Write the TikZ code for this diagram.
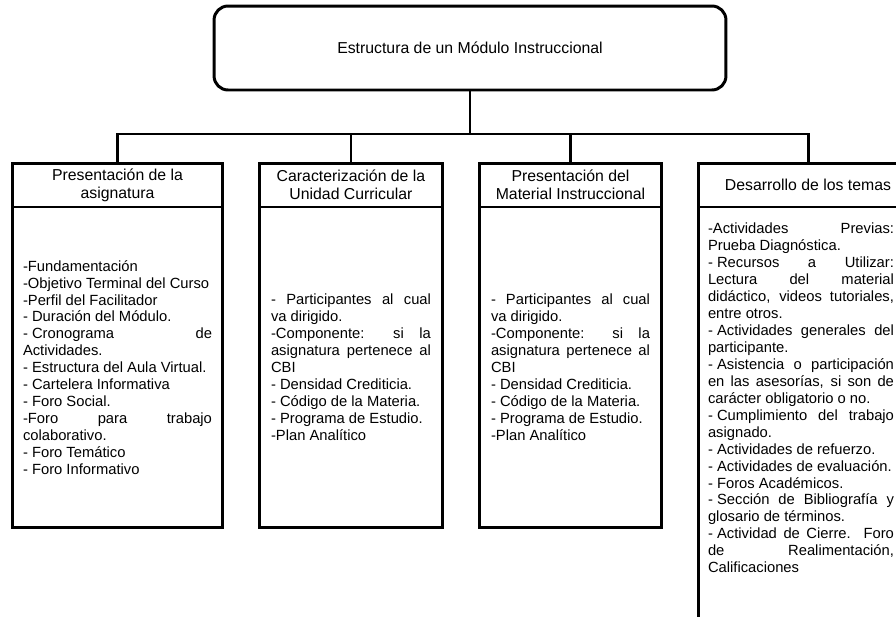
\documentclass[tikz,border=0pt]{standalone}
\usepackage{fontspec}
\setmainfont{Liberation Sans}
\usetikzlibrary{positioning}
\hyphenpenalty=10000
\exhyphenpenalty=10000
\tolerance=10000
\newcommand{\guion}{-\kern0.28em}

\begin{document}
\begin{tikzpicture}[x=0.02cm, y=-0.02cm, line width=1.7pt, node distance=0pt, outer sep=0pt,
	title/.style={draw, rounded corners=0.28cm, minimum width=10.24cm, minimum height=1.68cm, font=\fontsize{9}{10.5}\selectfont},
	head/.style={draw, minimum height=0.88cm, inner sep=0pt, align=center, font=\fontsize{9}{10.2}\selectfont},
	body/.style={draw, minimum height=6.42cm, inner ysep=0pt, align=justify, font=\fontsize{8.4}{9.65}\selectfont},
	items/.style={inner sep=0pt, align=justify, font=\fontsize{8.4}{9.65}\selectfont}]
	\useasboundingbox (0,0) rectangle (896,616);
	\clip (0,0) rectangle (896,616);

	\node	(top)	[title] 	at (470,48)	{Estructura de un Módulo Instruccional};
	\coordinate (bus) at (470,134);

	\node	(h1)	[head, minimum width=4.22cm]	at (117.5,185)	{Presentación de la\\asignatura};
	\node	(h2)	[head, minimum width=3.68cm]	at (351,185)	{Caracterización de la\\Unidad Curricular};
	\node	(h3)	[head, minimum width=3.66cm]	at (570.5,185)	{Presentación del\\Material Instruccional};
	\node	(h4)	[head, minimum width=4.4cm]	at (808,185)	{Desarrollo de los temas};

	\node	(b1)	[body, below=of h1, text width=3.78cm, inner xsep=0.22cm] {
		-Fundamentación\par
		-Objetivo Terminal del Curso\par
		-Perfil del Facilitador\par
		\guion Duración del Módulo.\par
		\guion Cronograma de\linebreak Actividades.\par
		\guion Estructura del Aula Virtual.\par
		\guion Cartelera Informativa\par
		\guion Foro Social.\par
		-Foro para trabajo\linebreak colaborativo.\par
		\guion Foro Temático\par
		\guion Foro Informativo};
	\node	(b2)	[body, below=of h2, text width=3.2cm, inner xsep=0.24cm] {
		- Participantes al cual\linebreak va dirigido.\par
		-Componente: si la\linebreak asignatura pertenece al\linebreak CBI\par
		\guion Densidad Crediticia.\par
		\guion Código de la Materia.\par
		\guion Programa de Estudio.\par
		-Plan Analítico};
	\node	(b3)	[body, below=of h3, text width=3.18cm, inner xsep=0.24cm] {
		- Participantes al cual\linebreak va dirigido.\par
		-Componente: si la\linebreak asignatura pertenece al\linebreak CBI\par
		\guion Densidad Crediticia.\par
		\guion Código de la Materia.\par
		\guion Programa de Estudio.\par
		-Plan Analítico};
	\node	(b4)	[draw, below=of h4, minimum width=4.4cm, minimum height=8.8cm] {};
	\node	(t4)	[items, below right=0.32cm and 0.2cm of b4.north west, text width=3.72cm] {
		-Actividades Previas:\linebreak Prueba Diagnóstica.\par
		\guion Recursos a Utilizar:\linebreak Lectura del material\linebreak didáctico, videos tutoriales,\linebreak entre otros.\par
		\guion Actividades generales del\linebreak participante.\par
		\guion Asistencia o participación\linebreak en las asesorías, si son de\linebreak carácter obligatorio o no.\par
		\guion Cumplimiento del trabajo\linebreak asignado.\par
		\guion Actividades de refuerzo.\par
		\guion Actividades de evaluación.\par
		\guion Foros Académicos.\par
		\guion Sección de Bibliografía y\linebreak glosario de términos.\par
		\guion Actividad de Cierre. Foro\linebreak de Realimentación,\linebreak Calificaciones};

	\draw (top) -- (bus);
	\draw (h1) |- (bus) -| (h4);
	\draw (h2) -- (h2 |- bus);
	\draw (h3) -- (h3 |- bus);

\end{tikzpicture}
\end{document}
